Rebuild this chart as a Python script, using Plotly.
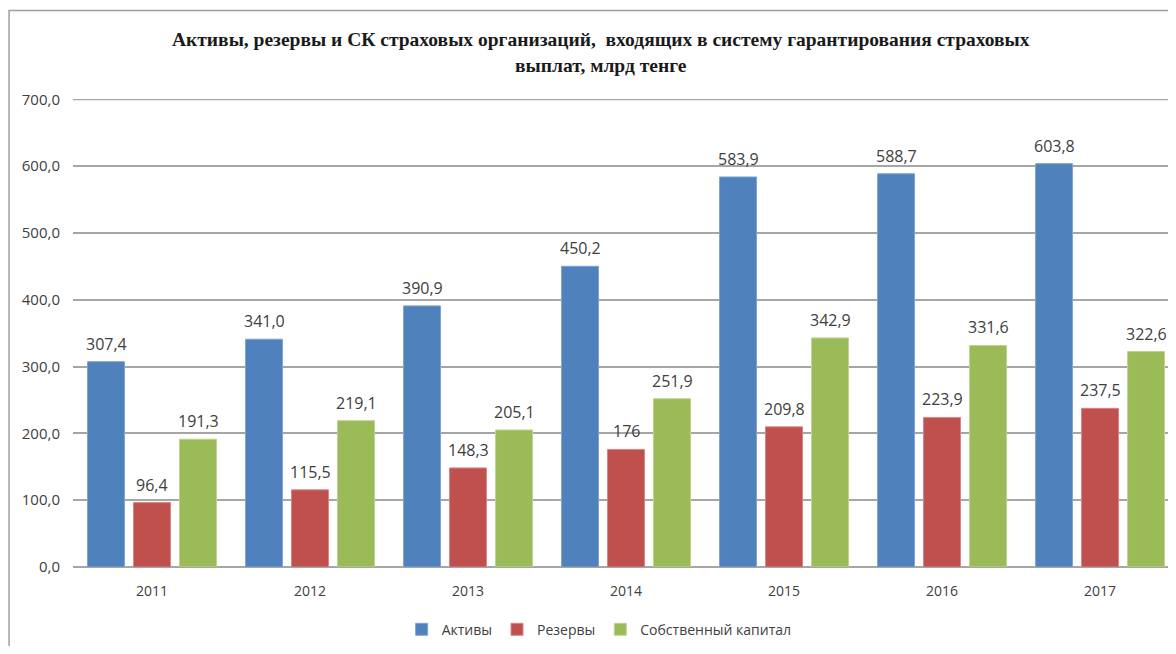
import plotly.graph_objects as go

years = ["2011", "2012", "2013", "2014", "2015", "2016", "2017"]
aktivy = [307.4, 341.0, 390.9, 450.2, 583.9, 588.7, 603.8]
rezervy = [96.4, 115.5, 148.3, 176, 209.8, 223.9, 237.5]
kapital = [191.3, 219.1, 205.1, 251.9, 342.9, 331.6, 322.6]
y_ticks = [0, 100, 200, 300, 400, 500, 600, 700]


def fmt(v):
    if isinstance(v, int):
        return str(v)
    return f"{v:.1f}".replace(".", ",")


series = [
    ("Активы", aktivy, "#4F81BD", "#7FA3D3"),
    ("Резервы", rezervy, "#C0504D", "#D88582"),
    ("Собственный капитал", kapital, "#9BBB59", "#BDD48F"),
]

font = "Open Sans, Liberation Sans"
txt_color = "#404040"

fig = go.Figure()
for i, (name, vals, color, edge) in enumerate(series):
    fig.add_trace(go.Bar(
        x=years, y=vals, name=name,
        marker=dict(color=color, line=dict(color=edge, width=1)),
    ))
    # value labels, lifted a little above the bars
    for j, v in enumerate(vals):
        fig.add_annotation(
            x=j, y=v, text=fmt(v), showarrow=False,
            xshift=(i - 1) * 46, yshift=5, yanchor="bottom",
            font=dict(family=font, size=16, color=txt_color),
        )

fig.update_layout(
    width=1160, height=638,
    margin=dict(l=65, r=0, t=91, b=77),
    paper_bgcolor="white", plot_bgcolor="white",
    separators=", ",
    barmode="group", bargap=0.127, bargroupgap=0.196,
    title=dict(
        text="Активы, резервы и СК страховых организаций,  входящих в систему гарантирования страховых<br>выплат, млрд тенге",
        font=dict(family="Liberation Serif", size=19.5, color="#1a1a1a", weight="bold"),
        x=0.511, xanchor="center", y=0.94, yanchor="middle",
    ),
    xaxis=dict(
        type="category",
        range=[-0.5, 6.43], showgrid=False, ticks="",
        tickfont=dict(family=font, size=14, color=txt_color),
        showline=False, ticklabelstandoff=14,
    ),
    yaxis=dict(
        range=[0, 700.6], tickvals=y_ticks,
        tickformat=".1f",
        showgrid=True, gridcolor="#a6a6a6", gridwidth=1.5,
        zeroline=True, zerolinecolor="#a6a6a6", zerolinewidth=1.5,
        tickfont=dict(family=font, size=15, color=txt_color),
        ticklabelstandoff=12,
    ),
    legend=dict(
        orientation="h", x=0.4805, xanchor="center", y=-0.134, yanchor="middle",
        font=dict(family=font, size=14, color=txt_color),
        itemwidth=30, traceorder="normal",
    ),
    showlegend=True,
)

# outer chart frame (cut off at right and bottom, as in the source image)
fig.add_shape(
    type="rect", xref="paper", yref="paper",
    x0=-0.0584, x1=1.5, y0=-0.5, y1=1.189,
    line=dict(color="#a0a0a0", width=1.5), layer="below",
)
# top gridline sits on the plot edge and is dropped by plotly, so draw it
fig.add_shape(
    type="line", xref="paper", yref="y",
    x0=0, x1=1, y0=y_ticks[-1], y1=y_ticks[-1],
    line=dict(color="#a6a6a6", width=1.5), layer="below",
)

fig.write_html("out.html")
